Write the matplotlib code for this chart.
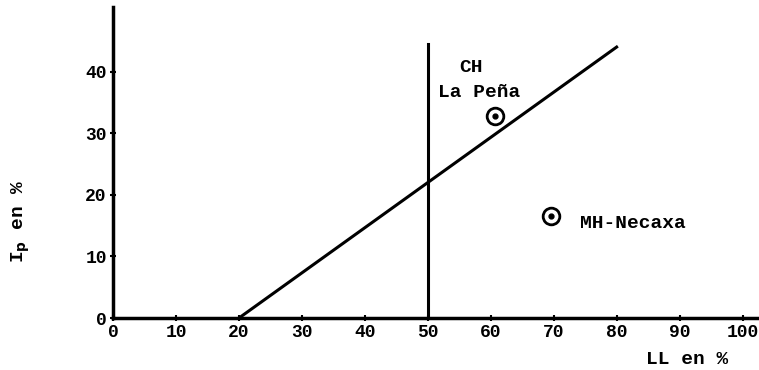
import matplotlib
matplotlib.use("Agg")
import matplotlib.pyplot as plt

# carta de plasticidad
ticks_ll = [0, 10, 20, 30, 40, 50, 60, 70, 80, 90, 100]
ticks_ip = [0, 10, 20, 30, 40]

linea_a_ll = [20, 80]
linea_a_ip = [0, 44]
linea_b_ll = [50, 50]
linea_b_ip = [0, 44.5]

muestras_ll = [60.7, 69.5]
muestras_ip = [32.8, 16.6]

font = {'family': 'Liberation Mono', 'weight': 'bold', 'size': 14}

fig = plt.figure(figsize=(7.59, 3.70), dpi=100)
ax = fig.add_axes([0.149, 0.1405, 0.85, 0.8405])
ax.set_xlim(0, 102.5)
ax.set_ylim(0, 50.5)

ax.plot(linea_a_ll, linea_a_ip, color='black', lw=2.2)
ax.plot(linea_b_ll, linea_b_ip, color='black', lw=2.2)
ax.plot(muestras_ll, muestras_ip, 'o', ms=12, mfc='white', mec='black', mew=2)
ax.plot(muestras_ll, muestras_ip, 'o', ms=3.5, color='black')

ax.text(55, 40.6, 'CH', va='center', ha='left', **font)
ax.text(51.6, 36.7, 'La Peña', va='center', ha='left', **font)
ax.text(74.2, 15.4, 'MH-Necaxa', va='center', ha='left', **font)

for s in ['top', 'right']:
    ax.spines[s].set_visible(False)
for s in ['left', 'bottom']:
    ax.spines[s].set_linewidth(2.5)

ax.set_xticks(ticks_ll)
ax.set_yticks(ticks_ip)
ax.tick_params(direction='inout', length=5, width=1.5, pad=2)
for lab in ax.get_xticklabels() + ax.get_yticklabels():
    lab.set_fontfamily('Liberation Mono')
    lab.set_fontweight('bold')
    lab.set_fontsize(13)

ax.set_ylabel('I$_\\mathbf{p}$ en %', **font)
ax.yaxis.set_label_coords(-0.125, 0.31)
ax.set_xlabel('LL en %', **font)
ax.xaxis.set_label_coords(0.89, -0.105)

fig.savefig('out.png', dpi=100)
